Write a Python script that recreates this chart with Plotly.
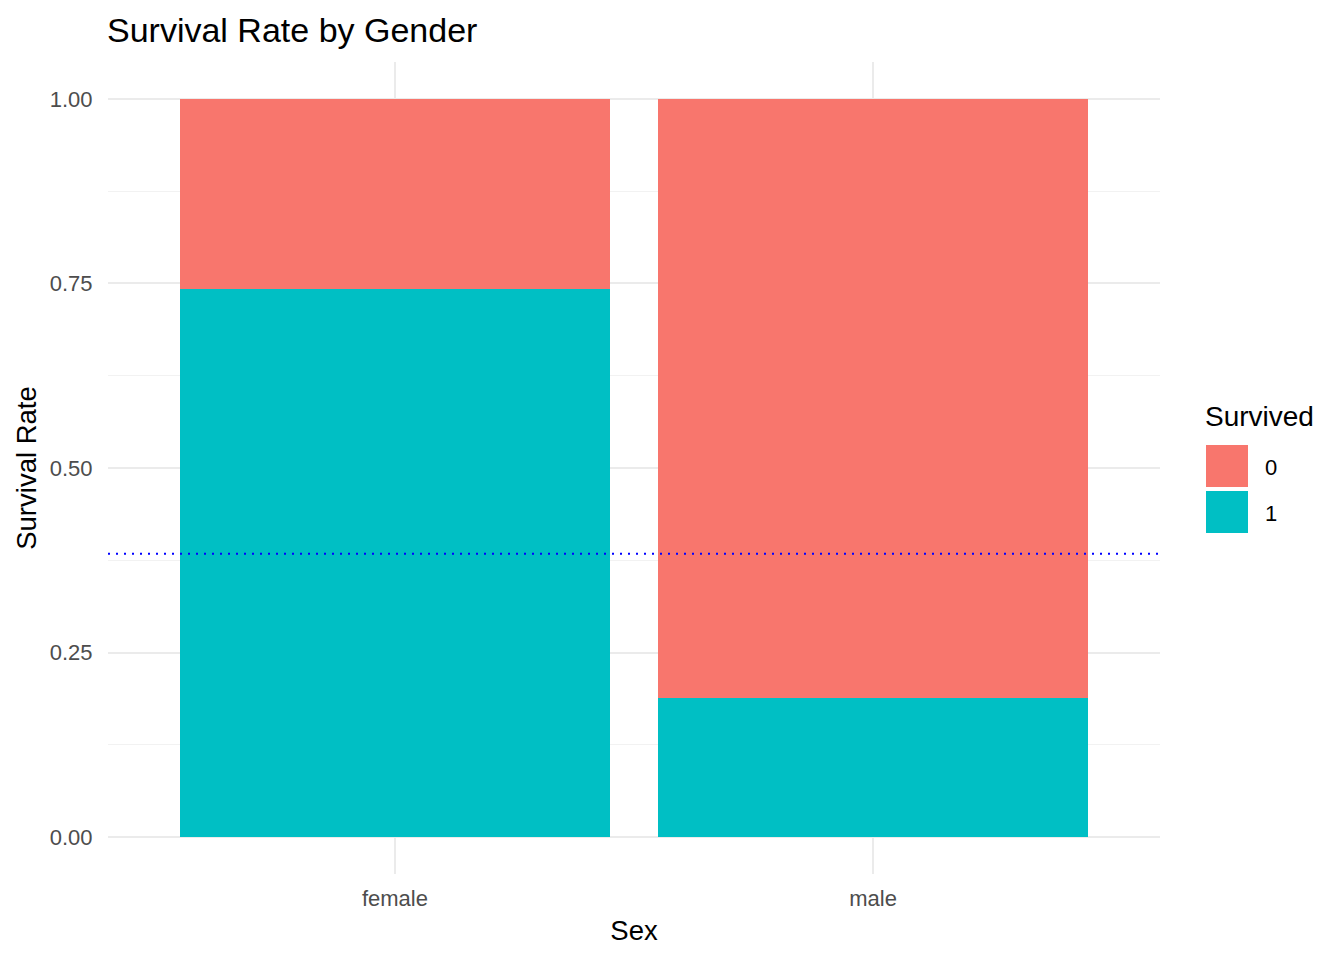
import plotly.graph_objects as go

sexes = ["female", "male"]
survived_1 = [0.742, 0.189]   # share survived
survived_0 = [0.258, 0.811]   # share died
overall_rate = 0.3838
legend_labels = ["0", "1"]
colors = {"0": "#F8766D", "1": "#00BFC4"}

FONT = "Liberation Sans, Arial, sans-serif"
OFF = 8  # page body offset

fig = go.Figure()
fig.add_trace(go.Bar(x=sexes, y=survived_1, name="1", marker_color=colors["1"],
                     marker_line_width=0, width=0.9, showlegend=False))
fig.add_trace(go.Bar(x=sexes, y=survived_0, name="0", marker_color=colors["0"],
                     marker_line_width=0, width=0.9, showlegend=False))

fig.add_shape(type="line", xref="paper", yref="y", x0=0, x1=1,
              y0=overall_rate, y1=overall_rate,
              line=dict(color="#0000FF", width=2, dash="2px,6px"), layer="above")

# plot area pixel geometry (page coordinates)
L, R, T, B = 108, 1160, 62, 874
W, H = R - L, B - T
def px(x):
    return (x - L) / W
def py(y):
    return (B - y) / H

# manual legend
fig.add_annotation(xref="paper", yref="paper", x=px(1203), y=py(416), text="Survived",
                   showarrow=False, xanchor="left", yanchor="middle",
                   font=dict(family=FONT, size=28, color="black"))
for i, lab in enumerate(legend_labels):
    top = 445 + i * 46
    fig.add_shape(type="rect", xref="paper", yref="paper",
                  x0=px(1206), x1=px(1248), y0=py(top), y1=py(top + 42),
                  fillcolor=colors[lab], line=dict(width=0))
    fig.add_annotation(xref="paper", yref="paper", x=px(1263), y=py(top + 22), text=lab,
                       showarrow=False, xanchor="left", yanchor="middle",
                       font=dict(family=FONT, size=22, color="black"))

fig.update_layout(
    width=1344, height=960,
    margin=dict(l=L - OFF, r=1344 - R + OFF, t=T - OFF, b=960 - B + OFF),
    paper_bgcolor="white", plot_bgcolor="white",
    barmode="stack", bargap=0.1,
    showlegend=False,
    title=dict(text="Survival Rate by Gender", xref="container", x=(107 - OFF) / 1344,
               xanchor="left", yref="container", y=1 - (30 - OFF) / 960, yanchor="middle",
               font=dict(family=FONT, size=34, color="black")),
    font=dict(family=FONT),
)
fig.update_xaxes(
    range=[-0.6, 1.6], showgrid=True, gridcolor="#EBEBEB", gridwidth=1.6,
    zeroline=False, showline=False,
    ticks="outside", ticklen=5, tickcolor="rgba(0,0,0,0)",
    tickfont=dict(family=FONT, size=22, color="#4D4D4D"),
    title=dict(text="Sex", font=dict(family=FONT, size=27.5, color="black"), standoff=10),
)
fig.update_yaxes(
    range=[-0.05, 1.05], tickvals=[0, 0.25, 0.5, 0.75, 1.0],
    ticktext=["0.00", "0.25", "0.50", "0.75", "1.00"],
    showgrid=True, gridcolor="#EBEBEB", gridwidth=1.6,
    minor=dict(tickvals=[0.125, 0.375, 0.625, 0.875], showgrid=True,
               gridcolor="#F2F2F2", gridwidth=0.9),
    zeroline=False, showline=False,
    ticks="outside", ticklen=10, tickcolor="rgba(0,0,0,0)",
    tickfont=dict(family=FONT, size=22, color="#4D4D4D"),
    title=dict(text="Survival Rate", font=dict(family=FONT, size=27.5, color="black"), standoff=5),
)

fig.write_html("out.html")
